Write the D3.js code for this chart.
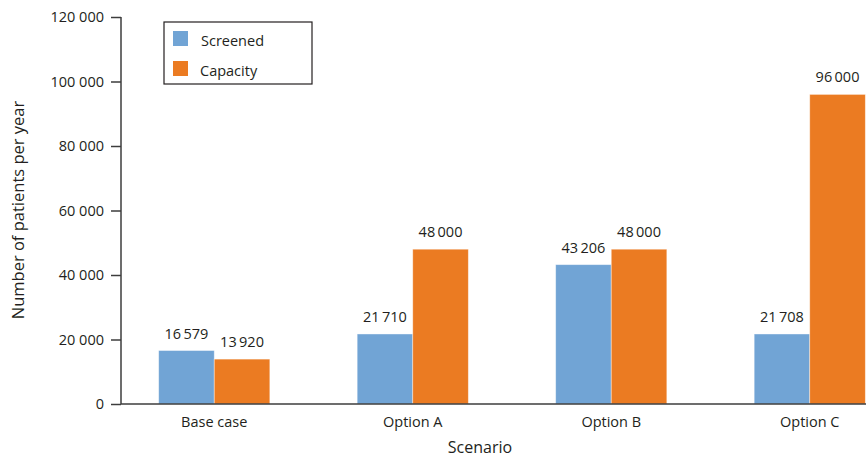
<!DOCTYPE html>
<html><head><meta charset="utf-8">
<script src="https://cdn.jsdelivr.net/npm/d3@7"></script>
<style>
body{margin:0;background:#fff;}
text{font-family:"Open Sans",sans-serif;fill:#231f20;}
</style></head>
<body><svg id="c" width="866" height="460"></svg>
<script>
const categories = ["Base case","Option A","Option B","Option C"];
const seriesNames = ["Screened","Capacity"];
const screened = [16579, 21710, 43206, 21708];
const capacity = [13920, 48000, 48000, 96000];
const yTicks = [0,20000,40000,60000,80000,100000,120000];
const colors = ["#71a4d5","#eb7b22"];

const svg = d3.select("#c");
const y = d3.scaleLinear().domain([0,120000]).range([404,17]);
const x = d3.scaleBand().domain(categories).range([115,909]).paddingInner(0.44).paddingOuter(0.22);
const xs = d3.scaleBand().domain(seriesNames).range([0,x.bandwidth()]);
const fmt = v => d3.format(",")(v).replace(/,/g,"\u2009");
const fmtTick = v => d3.format(",")(v).replace(/,/g," ");

const values = [screened, capacity];
const data = [];
categories.forEach((c,i)=>seriesNames.forEach((s,j)=>data.push({c,s,j,v:values[j][i]})));

svg.selectAll("rect.bar").data(data).enter().append("rect")
  .attr("class","bar")
  .attr("x",d=>x(d.c)+xs(d.s))
  .attr("y",d=>y(d.v))
  .attr("width",xs.bandwidth())
  .attr("height",d=>y(0)-y(d.v))
  .attr("fill",d=>colors[d.j])
  .attr("stroke","#fff").attr("stroke-opacity",0.5).attr("stroke-width",0.8);

svg.selectAll("text.val").data(data).enter().append("text")
  .attr("x",d=>x(d.c)+xs(d.s)+xs.bandwidth()/2)
  .attr("y",d=>y(d.v)-12)
  .attr("text-anchor","middle").attr("font-size",14.5)
  .text(d=>fmt(d.v));

// y axis
const ya = svg.append("g").attr("transform","translate(121,0)")
  .call(d3.axisLeft(y).tickValues(yTicks).tickSize(10).tickPadding(7).tickFormat(fmtTick));
ya.select(".domain").attr("stroke","#3d3d3d").attr("stroke-width",1.5).attr("d","M0,17V404");
ya.selectAll(".tick line").attr("stroke","#3d3d3d").attr("stroke-width",1.5);
ya.selectAll(".tick text").attr("font-size",14.5).attr("font-family","Open Sans").attr("fill","#231f20");

// x axis
const xa = svg.append("g").attr("transform","translate(0,404)")
  .call(d3.axisBottom(x).tickSize(0).tickPadding(13));
xa.select(".domain").attr("stroke","#3d3d3d").attr("stroke-width",1.5).attr("d","M121,0H866");
xa.selectAll(".tick text").attr("font-size",14.5).attr("font-family","Open Sans").attr("fill","#231f20");

svg.append("text").attr("x",480).attr("y",453).attr("text-anchor","middle").attr("font-size",16).text("Scenario");
svg.append("text").attr("transform","translate(24,210) rotate(-90)").attr("text-anchor","middle").attr("font-size",16.5).text("Number of patients per year");

// legend
const lg = svg.append("g");
lg.append("rect").attr("x",164).attr("y",22).attr("width",148).attr("height",62).attr("fill","#fff").attr("stroke","#231f20").attr("stroke-width",1.2);
seriesNames.forEach((s,i)=>{
  lg.append("rect").attr("x",173).attr("y",31+i*30).attr("width",15).attr("height",15).attr("fill",colors[i]);
  lg.append("text").attr("x",i===0?201:200).attr("y",46+i*30).attr("font-size",14.5).text(s);
});
</script></body></html>
